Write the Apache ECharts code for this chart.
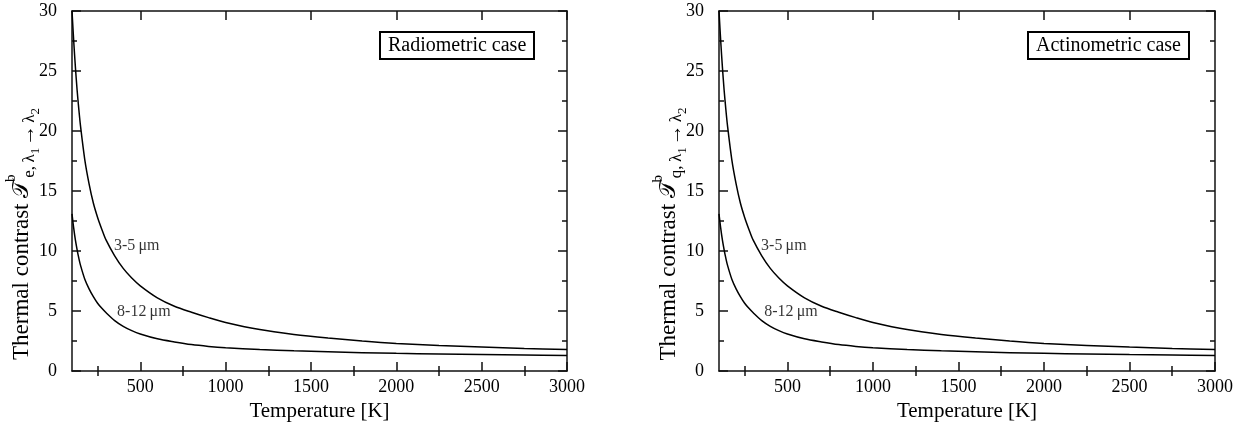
<!DOCTYPE html>
<html><head><meta charset="utf-8">
<script src="https://cdn.jsdelivr.net/npm/echarts@6/dist/echarts.min.js"></script>
<style>html,body{margin:0;padding:0;background:#fff}#c{width:1241px;height:425px}</style>
</head><body><div id="c"></div>
<script>
// ---- data ----
const temperatures = [100,110,120,130,140,150,175,200,225,250,275,300,350,400,450,500,600,700,800,900,1000,1200,1400,1600,1800,2000,2250,2500,2750,3000];
const radiometric35  = [30.0,27.5,25.3,23.4,21.8,20.4,17.6,15.6,14.0,12.8,11.8,10.9,9.6,8.55,7.75,7.1,6.1,5.4,4.9,4.45,4.05,3.45,3.05,2.75,2.5,2.3,2.13,1.99,1.88,1.8];
const radiometric812 = [13.1,11.9,10.9,10.1,9.4,8.8,7.65,6.85,6.2,5.65,5.22,4.85,4.2,3.72,3.36,3.08,2.68,2.42,2.2,2.05,1.94,1.79,1.68,1.6,1.53,1.47,1.42,1.37,1.33,1.3];
const actinometric35  = [30.0,27.5,25.3,23.4,21.8,20.4,17.6,15.6,14.0,12.8,11.8,10.9,9.6,8.55,7.75,7.1,6.1,5.4,4.9,4.45,4.05,3.45,3.05,2.75,2.5,2.3,2.13,1.99,1.88,1.8];
const actinometric812 = [13.1,11.9,10.9,10.1,9.4,8.8,7.65,6.85,6.2,5.65,5.22,4.85,4.2,3.72,3.36,3.08,2.68,2.42,2.2,2.05,1.94,1.79,1.68,1.6,1.53,1.47,1.42,1.37,1.33,1.3];
const xMajorTicks = [500,1000,1500,2000,2500,3000];
const xMinorTicks = [250,750,1250,1750,2250,2750];
const panelTitles = ['Radiometric case','Actinometric case'];
const panelSubscripts = ['e','q'];
const bandNames = ['3-5\u2009\u03bcm','8-12\u2009\u03bcm'];

// ---- chart ----
const FONT = "'Liberation Serif','Times New Roman',serif";
const INK = '#111';
const zip = (xs, ys) => xs.map((x, i) => [x, ys[i]]);
const panels = [
  {s35: radiometric35, s812: radiometric812},
  {s35: actinometric35, s812: actinometric812}
];
const grids = [
  {left: 72, right: 674, top: 11, bottom: 54, outerBoundsMode: 'none', containLabel: false},
  {left: 719, right: 26, top: 11, bottom: 54, outerBoundsMode: 'none', containLabel: false}
];
const xAxes = [], yAxes = [], series = [], titles = [];
const boxLeft = [380, 1028];
const LH = 40;
panels.forEach((p, g) => {
  const xi = xAxes.length, yi = yAxes.length;
  const common = {gridIndex: g, type: 'value', min: 100, max: 3000, splitLine: {show: false}};
  xAxes.push(Object.assign({}, common, {
    position: 'bottom',
    axisLine: {show: true, onZero: false, lineStyle: {color: INK, width: 1.5}},
    axisTick: {show: true, inside: true, length: 9, customValues: xMajorTicks, lineStyle: {color: INK, width: 1.5}},
    axisLabel: {show: true, customValues: xMajorTicks, margin: 7, fontSize: 18, color: '#000', fontFamily: FONT,
      formatter: v => String(v)},
    name: 'Temperature [K]', nameLocation: 'middle', nameGap: 25,
    nameTextStyle: {fontSize: 21, color: '#000', fontFamily: FONT}
  }));
  xAxes.push(Object.assign({}, common, {
    position: 'bottom', axisLine: {show: false},
    axisTick: {show: true, inside: true, length: 5, customValues: xMinorTicks, lineStyle: {color: INK, width: 1.5}},
    axisLabel: {show: false}
  }));
  xAxes.push(Object.assign({}, common, {
    position: 'top',
    axisLine: {show: true, onZero: false, lineStyle: {color: INK, width: 1.5}},
    axisTick: {show: true, inside: true, length: 9, customValues: xMajorTicks, lineStyle: {color: INK, width: 1.5}},
    axisLabel: {show: false}
  }));
  xAxes.push(Object.assign({}, common, {
    position: 'top', axisLine: {show: false},
    axisTick: {show: true, inside: true, length: 5, customValues: xMinorTicks, lineStyle: {color: INK, width: 1.5}},
    axisLabel: {show: false}
  }));
  const ycommon = {gridIndex: g, type: 'value', min: 0, max: 30, interval: 5, splitLine: {show: false},
    axisLine: {show: true, onZero: false, lineStyle: {color: INK, width: 1.5}},
    axisTick: {show: true, inside: true, length: 9, lineStyle: {color: INK, width: 1.5}},
    minorTick: {show: true, splitNumber: 2, length: 5, lineStyle: {color: INK, width: 1.5}},
    minorSplitLine: {show: false}};
  yAxes.push(Object.assign({}, ycommon, {
    position: 'left',
    axisLabel: {show: true, margin: 15, fontSize: 18, color: '#000', fontFamily: FONT},
    name: '{n|Thermal contrast }{t|\uD835\uDCAF}{sup|b}{sub|' + panelSubscripts[g] + ',\u2009\u03bb}{ss|1}{arr|\u2192}{sub|\u03bb}{ss|2}{pad|}',
    nameLocation: 'middle', nameRotate: 90, nameGap: 30, nameMoveOverlap: false,
    nameTextStyle: {
      fontFamily: FONT, color: '#000', fontSize: 23,
      rich: {
        n: {fontSize: 23, fontFamily: FONT, color: '#000', lineHeight: LH, verticalAlign: 'middle'},
        t: {fontSize: 23, fontFamily: FONT, color: '#000', lineHeight: LH, verticalAlign: 'middle', padding: [0, 1, 0, 0]},
        sup: {fontSize: 15, fontFamily: FONT, color: '#000', verticalAlign: 'top', align: 'left', width: 1, lineHeight: LH, padding: [2, 0, 0, 0]},
        sub: {fontSize: 17, fontFamily: FONT, color: '#000', verticalAlign: 'bottom', lineHeight: LH, padding: [0, 0, 4, 0]},
        arr: {fontSize: 21, fontFamily: FONT, color: '#000', verticalAlign: 'bottom', lineHeight: LH, padding: [0, 2, 3, 2]},
        ss: {fontSize: 13, fontFamily: FONT, color: '#000', verticalAlign: 'bottom', lineHeight: LH, padding: [0, 0, 0, 0]},
        pad: {width: 86, lineHeight: LH}
      }
    }
  }));
  yAxes.push(Object.assign({}, ycommon, {position: 'right', axisLabel: {show: false}}));

  const lineStyle = {color: '#000', width: 1.5};
  series.push({type: 'line', xAxisIndex: xi, yAxisIndex: yi, data: zip(temperatures, p.s35),
    showSymbol: false, smooth: 0.3, lineStyle, silent: true});
  series.push({type: 'line', xAxisIndex: xi, yAxisIndex: yi, data: zip(temperatures, p.s812),
    showSymbol: false, smooth: 0.3, lineStyle, silent: true});
  // curve name labels, anchored in data space
  series.push({type: 'scatter', xAxisIndex: xi, yAxisIndex: yi, symbolSize: 0, silent: true,
    data: [{value: [346, 10.4], name: bandNames[0]}, {value: [364, 4.9], name: bandNames[1]}],
    label: {show: true, position: 'right', distance: 0, formatter: '{b}', fontSize: 16, color: '#000', fontFamily: FONT}});

  titles.push({text: panelTitles[g], left: boxLeft[g], top: 32, padding: [4, 8, 3, 8],
    borderWidth: 2, borderColor: '#000',
    textStyle: {fontSize: 20, fontWeight: 'normal', color: '#000', fontFamily: FONT}});
});

const chart = echarts.init(document.getElementById('c'), null, {renderer: 'canvas'});
chart.setOption({
  animation: false,
  backgroundColor: '#fff',
  title: titles,
  grid: grids,
  xAxis: xAxes,
  yAxis: yAxes,
  series
});
</script></body></html>
